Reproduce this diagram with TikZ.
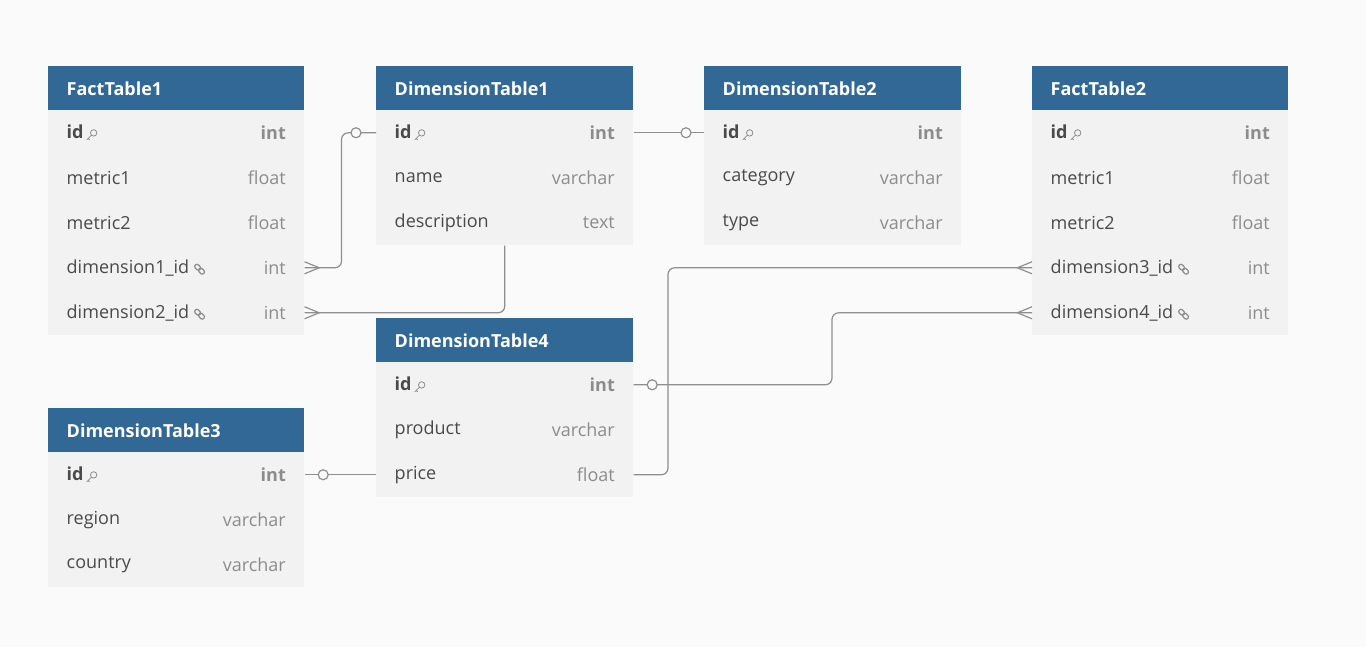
\documentclass[tikz,border=0pt]{standalone}
\usepackage{fontspec}
\setmainfont{Open Sans}
\definecolor{hdr}{HTML}{316896}
\definecolor{rowbg}{HTML}{F2F2F2}
\definecolor{txt}{HTML}{4A4A4A}
\definecolor{typ}{HTML}{8C8C8C}
\definecolor{ln}{HTML}{8F8F8F}
\definecolor{bg}{HTML}{FAFAFA}
\begin{document}
\begin{tikzpicture}[x=0.75pt,y=-0.75pt,
  hd/.style={fill=hdr,draw=none,minimum width=192bp,minimum height=33.75pt,inner sep=0pt,anchor=north west},
  rw/.style={fill=rowbg,draw=none,minimum width=192bp,minimum height=33.75pt,inner sep=0pt,anchor=north west},
  conn/.style={draw=ln,line width=0.9pt,rounded corners=5pt},
  circ/.style={circle,draw=ln,fill=bg,line width=0.9pt,minimum size=7.5pt,inner sep=0pt},
  key/.pic={\draw[typ,line width=0.6pt] (2,-2) circle (3.2) (-0.3,0.3) -- (-5,5) (-3.5,3.5) -- (-2,5);},
  lnk/.pic={\draw[typ,line width=0.9pt,rotate=-45,rounded corners=1.6pt] (-6,-2.2) rectangle (0.5,2.2) (-0.5,-2.2) rectangle (6,2.2);}
  ]
\fill[bg] (0,0) rectangle (1366,647);
\useasboundingbox (0,0) rectangle (1366,647);
\newcommand\tbl[5]{%
  \node[hd,minimum width=#5*0.75pt] (#1) at (#2,#3) {};
  \node[anchor=west,text=white,font=\bfseries\fontsize{13.5}{15}\selectfont] at ([xshift=10.5pt]#1.west) {#4};
}
\newcommand\rowx[7]{% name idx x y fieldtext type width
  \node[rw,minimum width=#7*0.75pt] (#1-#2) at (#3,#4) {};
  \node[anchor=west,text=txt,font=\fontsize{13.5}{15}\selectfont] at ([xshift=10.5pt]#1-#2.west) {#5};
  \node[anchor=east,text=typ,font=\fontsize{13.5}{15}\selectfont] at ([xshift=-10.5pt]#1-#2.east) {#6};
}
% FactTable1
\tbl{ft1}{48}{66}{FactTable1}{256}
\rowx{ft1}{1}{48}{110}{\textbf{id}\hspace{2pt}\tikz[x=0.75pt,y=-0.75pt,baseline=-3pt]\pic{key};}{\textbf{int}}{256}
\rowx{ft1}{2}{48}{155}{metric1}{float}{256}
\rowx{ft1}{3}{48}{200}{metric2}{float}{256}
\rowx{ft1}{4}{48}{245}{dimension1\_id\hspace{3pt}\tikz[x=0.75pt,y=-0.75pt,baseline=-3pt]\pic{lnk};}{int}{256}
\rowx{ft1}{5}{48}{290}{dimension2\_id\hspace{3pt}\tikz[x=0.75pt,y=-0.75pt,baseline=-3pt]\pic{lnk};}{int}{256}
% DimensionTable1
\tbl{dt1}{376}{66}{DimensionTable1}{257}
\rowx{dt1}{1}{376}{110}{\textbf{id}\hspace{2pt}\tikz[x=0.75pt,y=-0.75pt,baseline=-3pt]\pic{key};}{\textbf{int}}{257}
\rowx{dt1}{2}{376}{155}{name}{varchar}{257}
\rowx{dt1}{3}{376}{200}{description}{text}{257}
% DimensionTable2
\tbl{dt2}{704}{66}{DimensionTable2}{257}
\rowx{dt2}{1}{704}{110}{\textbf{id}\hspace{2pt}\tikz[x=0.75pt,y=-0.75pt,baseline=-3pt]\pic{key};}{\textbf{int}}{257}
\rowx{dt2}{2}{704}{155}{category}{varchar}{257}
\rowx{dt2}{3}{704}{200}{type}{varchar}{257}
% FactTable2
\tbl{ft2}{1032}{66}{FactTable2}{256}
\rowx{ft2}{1}{1032}{110}{\textbf{id}\hspace{2pt}\tikz[x=0.75pt,y=-0.75pt,baseline=-3pt]\pic{key};}{\textbf{int}}{256}
\rowx{ft2}{2}{1032}{155}{metric1}{float}{256}
\rowx{ft2}{3}{1032}{200}{metric2}{float}{256}
\rowx{ft2}{4}{1032}{245}{dimension3\_id\hspace{3pt}\tikz[x=0.75pt,y=-0.75pt,baseline=-3pt]\pic{lnk};}{int}{256}
\rowx{ft2}{5}{1032}{290}{dimension4\_id\hspace{3pt}\tikz[x=0.75pt,y=-0.75pt,baseline=-3pt]\pic{lnk};}{int}{256}
% DimensionTable4
\tbl{dt4}{376}{318}{DimensionTable4}{257}
\rowx{dt4}{1}{376}{362}{\textbf{id}\hspace{2pt}\tikz[x=0.75pt,y=-0.75pt,baseline=-3pt]\pic{key};}{\textbf{int}}{257}
\rowx{dt4}{2}{376}{407}{product}{varchar}{257}
\rowx{dt4}{3}{376}{452}{price}{float}{257}
% DimensionTable3
\tbl{dt3}{48}{408}{DimensionTable3}{256}
\rowx{dt3}{1}{48}{452}{\textbf{id}\hspace{2pt}\tikz[x=0.75pt,y=-0.75pt,baseline=-3pt]\pic{key};}{\textbf{int}}{256}
\rowx{dt3}{2}{48}{497}{region}{varchar}{256}
\rowx{dt3}{3}{48}{542}{country}{varchar}{256}
% connectors
\draw[conn] (ft1-4.east) -- ++(37,0) |- (dt1-1.west);
\node[circ] at ([xshift=-15pt]dt1-1.west) {};
\draw[conn] (dt1-1.east) -- (dt2-1.west);
\node[circ] at ([xshift=-13.5pt]dt2-1.west) {};
\draw[conn] (ft1-5.east) -| (dt1-3.south);
\draw[conn] (ft2-4.west) -- ++(-364,0) |- (dt4-3.east);
\draw[conn] (ft2-5.west) -- ++(-200,0) |- (dt4-1.east);
\node[circ] at ([xshift=14pt]dt4-1.east) {};
\draw[conn] (dt3-1.east) -- (dt4-3.west);
\node[circ] at ([xshift=14pt]dt3-1.east) {};
% crow feet
\newcommand\crowR[1]{\draw[ln,line width=0.9pt] ([yshift=4.5pt]#1) -- ([xshift=11pt]#1) -- ([yshift=-4.5pt]#1);}
\newcommand\crowL[1]{\draw[ln,line width=0.9pt] ([yshift=4.5pt]#1) -- ([xshift=-11pt]#1) -- ([yshift=-4.5pt]#1);}
\crowR{ft1-4.east}\crowR{ft1-5.east}
\crowL{ft2-4.west}\crowL{ft2-5.west}
\end{tikzpicture}
\end{document}
